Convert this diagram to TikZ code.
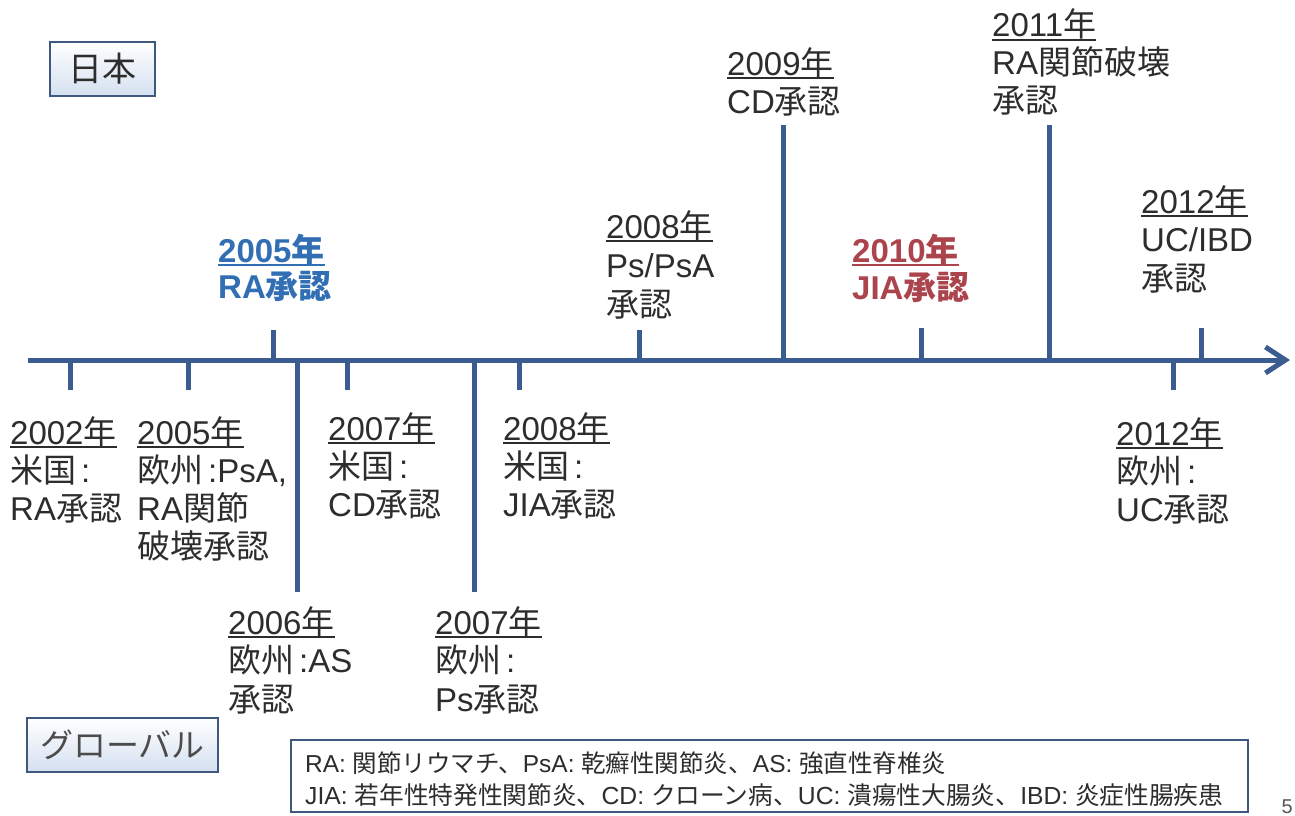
\documentclass[tikz,border=0pt]{standalone}
\usepackage{fontspec}
\setmainfont{Liberation Sans}
\newfontfamily\jp{Noto Sans CJK JP}
\usetikzlibrary{arrows.meta}
\definecolor{axisc}{RGB}{58,92,145}
\definecolor{txt}{RGB}{45,45,45}
\definecolor{bluet}{RGB}{50,110,180}
\definecolor{redt}{RGB}{172,68,78}
\definecolor{boxline}{RGB}{62,88,128}
\definecolor{boxfill}{RGB}{212,224,240}
\newcommand\ulx[1]{\setbox0\hbox{#1}\rlap{\rule[-4pt]{\wd0}{2pt}}\box0}
\newcommand\stk[2]{\vtop{\baselineskip=#1\lineskiplimit=-100pt\lineskip=0pt\halign{##\hfil\cr#2\crcr}}}
\newcommand\cln{\hspace{5pt}:}
\tikzset{
  lab/.style={inner sep=0pt, anchor=base west, text=txt, font=\fontsize{33}{38}\selectfont},
  blab/.style={lab, font=\fontsize{33}{36}\selectfont\bfseries},
  tick/.style={draw=axisc, line width=5pt},
  tagbox/.style={draw=boxline, line width=1.6pt, top color=white, bottom color=boxfill, inner sep=0pt},
}
\begin{document}
\begin{tikzpicture}[x=1pt,y=-1pt]
\useasboundingbox (0,0) rectangle (1295,816);
\fill[white] (0,0) rectangle (1295,816);
% axis
\coordinate (ax0) at (28,360);
\coordinate (ax1) at (1290,360);
\draw[tick, -{Straight Barb[length=20pt,width=26pt]}] (ax0) -- (ax1);
% Japan ticks (above)
\foreach \n/\x/\t in {j05/273/330, j08/639/330, j09/783/125, j10/921/328, j11/1049/125, j12/1201/328}{
  \coordinate (\n a) at (\x,360); \coordinate (\n b) at (\x,\t);
  \draw[tick] (\n a) -- (\n b);
}
% global ticks (below)
\foreach \n/\x/\t in {g02/70/390, g05/188/390, g06/297/592, g07/347/390, g07e/474/592, g08/519/390, g12/1173/390}{
  \coordinate (\n a) at (\x,360); \coordinate (\n b) at (\x,\t);
  \draw[tick] (\n a) -- (\n b);
}
% Japan labels
\node[blab, text=bluet] (J2005) at (218,262) {\stk{36pt}{\ulx{2005{\jp 年}}\cr RA{\jp 承認}}};
\node[lab] (J2008) at (606,238) {\stk{39pt}{\ulx{2008{\jp 年}}\cr Ps/PsA\cr{\jp 承認}}};
\node[lab] (J2009) at (727,75) {\stk{38pt}{\ulx{2009{\jp 年}}\cr CD{\jp 承認}}};
\node[blab, text=redt] (J2010) at (852,262) {\stk{37pt}{\ulx{2010{\jp 年}}\cr JIA{\jp 承認}}};
\node[lab] (J2011) at (992,37) {\stk{38pt}{\ulx{2011{\jp 年}}\cr RA{\jp 関節破壊}\cr{\jp 承認}}};
\node[lab] (J2012) at (1141,213) {\stk{38.5pt}{\ulx{2012{\jp 年}}\cr UC/IBD\cr{\jp 承認}}};
% Global labels
\node[lab] (G2002) at (10,444) {\stk{38pt}{\ulx{2002{\jp 年}}\cr{\jp 米国}\cln\cr RA{\jp 承認}}};
\node[lab] (G2005) at (137,444) {\stk{38pt}{\ulx{2005{\jp 年}}\cr{\jp 欧州}\cln PsA,\cr RA{\jp 関節}\cr{\jp 破壊承認}}};
\node[lab] (G2007) at (328,440) {\stk{38pt}{\ulx{2007{\jp 年}}\cr{\jp 米国}\cln\cr CD{\jp 承認}}};
\node[lab] (G2008) at (503,440) {\stk{38pt}{\ulx{2008{\jp 年}}\cr{\jp 米国}\cln\cr JIA{\jp 承認}}};
\node[lab] (G2006) at (228,634) {\stk{38.5pt}{\ulx{2006{\jp 年}}\cr{\jp 欧州}\cln AS\cr{\jp 承認}}};
\node[lab] (G2007e) at (435,634) {\stk{38.5pt}{\ulx{2007{\jp 年}}\cr{\jp 欧州}\cln\cr Ps{\jp 承認}}};
\node[lab] (G2012) at (1116,445) {\stk{38pt}{\ulx{2012{\jp 年}}\cr{\jp 欧州}\cln\cr UC{\jp 承認}}};
% tag boxes
\node[tagbox, minimum width=105pt, minimum height=54pt] (japan) at (102.5,69) {};
\node[text=txt, font=\fontsize{34}{34}\selectfont\jp] (japant) at (japan.center) {日本};
\node[tagbox, minimum width=191pt, minimum height=54pt] (global) at (122.5,745) {};
\node[text=txt!85, font=\fontsize{33}{33}\selectfont\jp] (globalt) at (global.center) {グローバル};
% legend
\node[draw=boxline, line width=1.4pt, minimum width=957pt, minimum height=72pt, inner sep=0pt] (legend) at (769.5,776) {};
\node[lab, font=\fontsize{24.5}{30}\selectfont, text=txt] (leg1) at (305,772) {RA: {\jp 関節リウマチ、}PsA: {\jp 乾癬性関節炎、}AS: {\jp 強直性脊椎炎}};
\node[lab, font=\fontsize{24.7}{30}\selectfont, text=txt] (leg2) at (305,804) {JIA: {\jp 若年性特発性関節炎、}CD: {\jp クローン病、}UC: {\jp 潰瘍性大腸炎、}IBD: {\jp 炎症性腸疾患}};
\node[inner sep=0pt, anchor=base east, font=\fontsize{20}{20}\selectfont, text=txt!80] (pg) at (1293,813) {5};
\end{tikzpicture}
\end{document}
